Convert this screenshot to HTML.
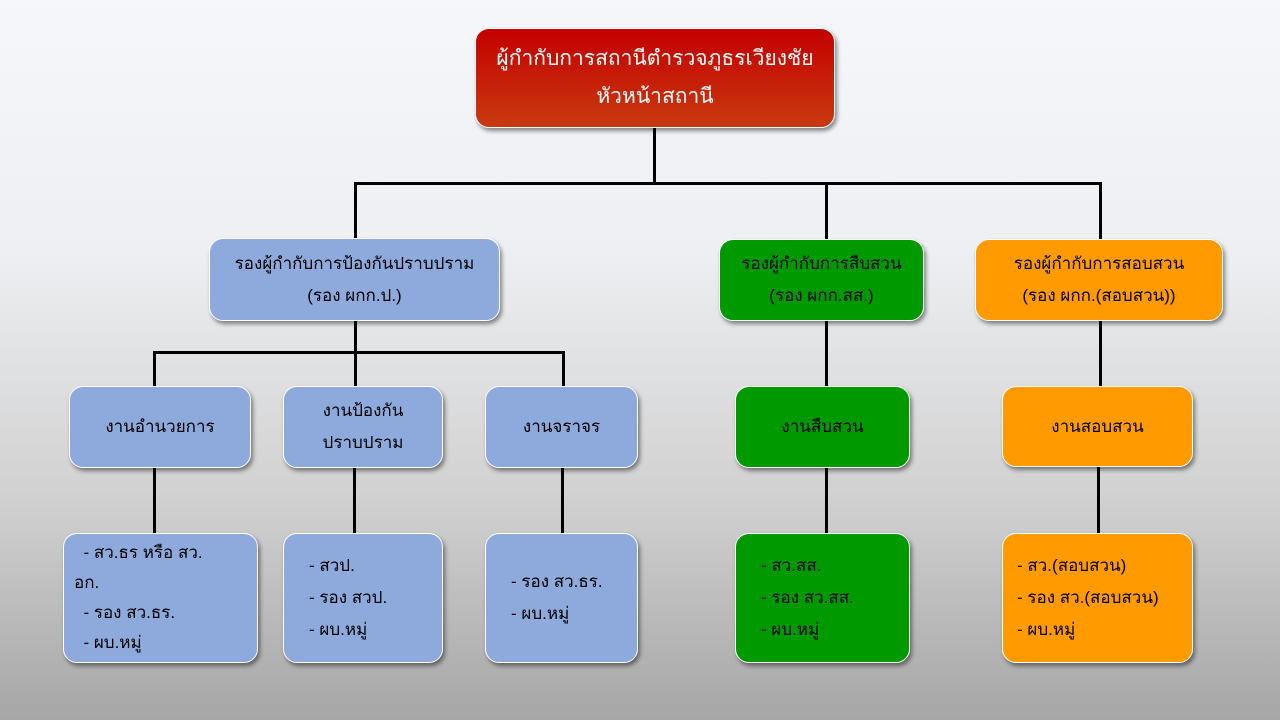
<!DOCTYPE html>
<html><head><meta charset="utf-8"><style>
body{margin:0;width:1280px;height:720px;overflow:hidden;background:linear-gradient(#f6f7fb 0%,#eeeff2 35%,#d0d0d0 70%,#a6a6a6 100%);font-family:"Liberation Sans","DejaVu Sans",sans-serif;position:relative}
.b{position:absolute;box-sizing:border-box;border:1.5px solid #fff;border-radius:14px;box-shadow:2px 3px 4px rgba(0,0,0,.45);display:flex;flex-direction:column;justify-content:center;align-items:center;text-align:center;font-size:17px;line-height:32px;color:#000}
.bl{background:#8eaadc}.gr{background:#009a00}.or{background:#ff9a00}
.l{position:absolute;background:#000}
.left{align-items:flex-start;text-align:left}
</style></head><body>
<div class="l" style="left:653px;top:127px;width:3px;height:57px"></div>
<div class="l" style="left:354px;top:182px;width:748px;height:3px"></div>
<div class="l" style="left:354px;top:182px;width:3px;height:57px"></div>
<div class="l" style="left:825px;top:182px;width:3px;height:57px"></div>
<div class="l" style="left:1099px;top:182px;width:3px;height:57px"></div>
<div class="l" style="left:354px;top:320px;width:3px;height:66px"></div>
<div class="l" style="left:153px;top:351px;width:412px;height:3px"></div>
<div class="l" style="left:153px;top:351px;width:3px;height:35px"></div>
<div class="l" style="left:562px;top:351px;width:3px;height:35px"></div>
<div class="l" style="left:825px;top:320px;width:3px;height:66px"></div>
<div class="l" style="left:1099px;top:320px;width:3px;height:66px"></div>
<div class="l" style="left:153px;top:467px;width:3px;height:66px"></div>
<div class="l" style="left:353px;top:467px;width:3px;height:66px"></div>
<div class="l" style="left:561px;top:467px;width:3px;height:66px"></div>
<div class="l" style="left:825px;top:467px;width:3px;height:66px"></div>
<div class="l" style="left:1097px;top:467px;width:3px;height:66px"></div>

<div class="b" style="left:475px;top:28px;width:360px;height:100px;background:linear-gradient(#c40000,#c83a10);color:#fff;font-size:21px;line-height:38px">ผู้กำกับการสถานีตำรวจภูธรเวียงชัย<br>หัวหน้าสถานี</div>

<div class="b bl" style="left:209px;top:238px;width:291px;height:83px">รองผู้กำกับการป้องกันปราบปราม<br>(รอง ผกก.ป.)</div>
<div class="b gr" style="left:719px;top:239px;width:205px;height:82px">รองผู้กำกับการสืบสวน<br>(รอง ผกก.สส.)</div>
<div class="b or" style="left:975px;top:239px;width:248px;height:82px">รองผู้กำกับการสอบสวน<br>(รอง ผกก.(สอบสวน))</div>

<div class="b bl" style="left:69px;top:386px;width:182px;height:82px">งานอำนวยการ</div>
<div class="b bl" style="left:283px;top:386px;width:160px;height:82px">งานป้องกัน<br>ปราบปราม</div>
<div class="b bl" style="left:485px;top:386px;width:153px;height:82px">งานจราจร</div>
<div class="b gr" style="left:735px;top:386px;width:175px;height:82px">งานสืบสวน</div>
<div class="b or" style="left:1002px;top:386px;width:191px;height:81px">งานสอบสวน</div>

<div class="b bl left" style="left:63px;top:533px;width:195px;height:130px;padding-left:10px;line-height:30px"><div>&nbsp;&nbsp;- สว.ธร หรือ สว.</div><div>อก.</div><div>&nbsp;&nbsp;- รอง สว.ธร.</div><div>&nbsp;&nbsp;- ผบ.หมู่</div></div>
<div class="b bl left" style="left:283px;top:533px;width:160px;height:130px;padding-left:25px"><div>- สวป.</div><div>- รอง สวป.</div><div>- ผบ.หมู่</div></div>
<div class="b bl left" style="left:485px;top:533px;width:153px;height:130px;padding-left:25px"><div>- รอง สว.ธร.</div><div>- ผบ.หมู่</div></div>
<div class="b gr left" style="left:735px;top:533px;width:175px;height:130px;padding-left:25px"><div>- สว.สส.</div><div>- รอง สว.สส.</div><div>- ผบ.หมู่</div></div>
<div class="b or left" style="left:1002px;top:533px;width:191px;height:130px;padding-left:14px"><div>- สว.(สอบสวน)</div><div>- รอง สว.(สอบสวน)</div><div>- ผบ.หมู่</div></div>
</body></html>
